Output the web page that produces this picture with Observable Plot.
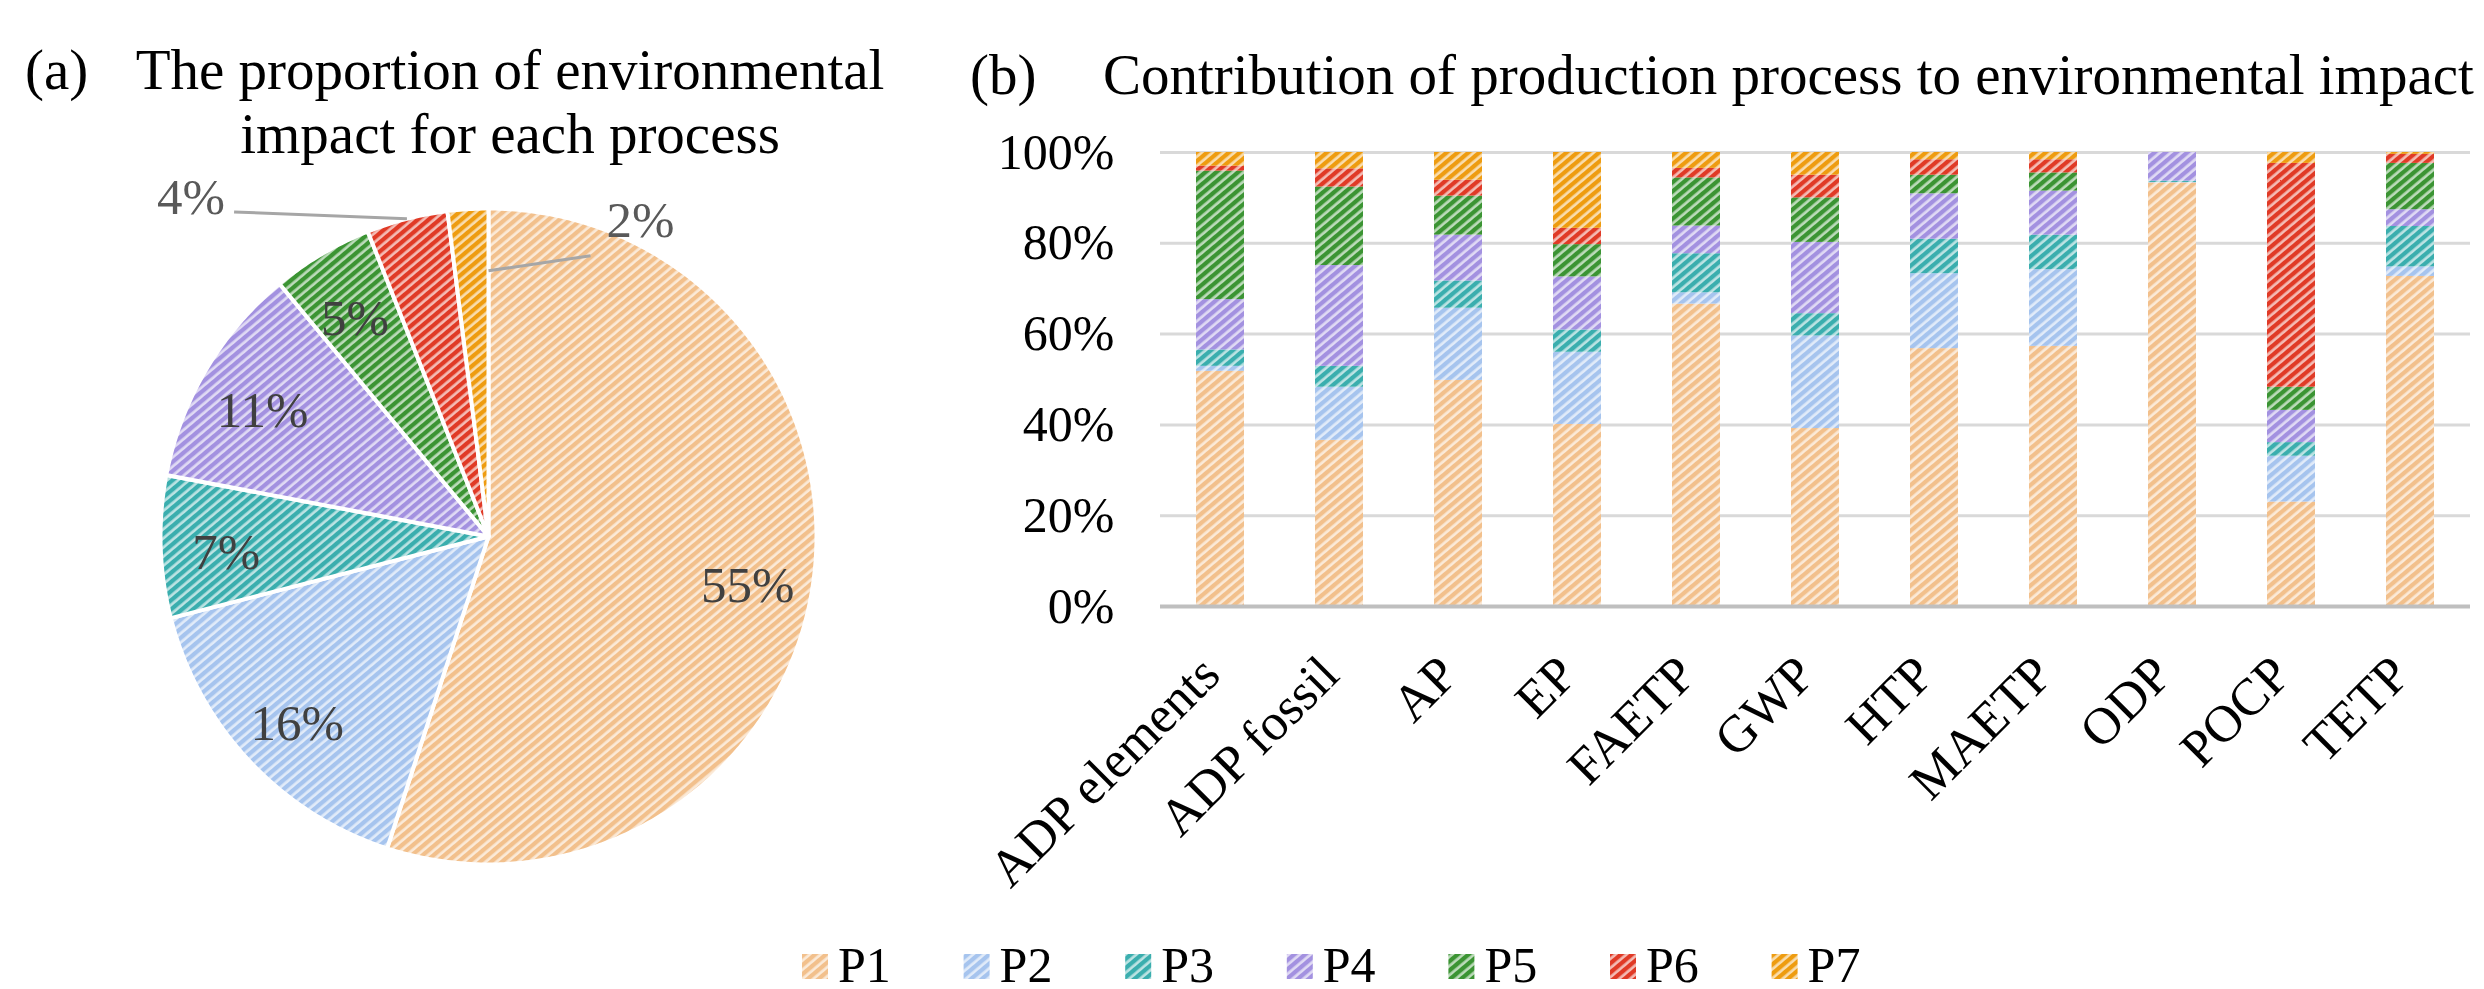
<!DOCTYPE html>
<html>
<head>
<meta charset="utf-8">
<script src="https://cdn.jsdelivr.net/npm/d3@7"></script>
<script src="https://cdn.jsdelivr.net/npm/@observablehq/plot@0.6"></script>
<style>
  html, body { margin: 0; padding: 0; background: #fff; }
  body { width: 2484px; height: 989px; position: relative; overflow: hidden;
         font-family: "Liberation Serif", "Times New Roman", serif; }
  #overlay, #pie, #bars { position: absolute; top: 0; }
  #overlay { left: 0; }
  #pie { left: 0; }
  #bars { left: 950px; }
  svg { overflow: visible; }
</style>
</head>
<body>
<svg id="overlay" width="2484" height="989"><defs id="patterns"></defs></svg>
<div id="pie"></div>
<div id="bars"></div>
<script>
// ---- data ----
const processes = ["P1", "P2", "P3", "P4", "P5", "P6", "P7"];
// share of total environmental impact per process (%)
const shares = [55, 16, 7, 11, 5, 4, 2];

const categories = ["ADP elements", "ADP fossil", "AP", "EP", "FAETP", "GWP", "HTP", "MAETP", "ODP", "POCP", "TETP"];
// contribution of each process to each impact category (%)
const P1 = [51.8, 36.6, 49.8, 40.1, 66.6, 39.2, 56.8, 57.3, 93.3, 23.0, 72.7];
const P2 = [1.1, 11.7, 15.9, 15.9, 2.5, 20.4, 16.5, 16.9, 0.1, 10.1, 2.1];
const P3 = [3.6, 4.6, 6.0, 4.9, 8.6, 4.9, 7.6, 7.6, 0.3, 3.0, 8.9];
const P4 = [11.1, 22.2, 10.1, 11.7, 6.1, 15.7, 10.0, 9.7, 6.3, 7.1, 3.7];
const P5 = [28.3, 17.3, 8.6, 7.1, 10.6, 9.8, 4.1, 4.0, 0, 5.1, 10.2];
const P6 = [1.1, 4.0, 3.5, 3.6, 2.1, 5.0, 3.4, 2.9, 0, 49.3, 2.0];
const P7 = [3.0, 3.6, 6.1, 16.7, 3.5, 5.0, 1.6, 1.6, 0, 2.4, 0.4];
const series = [P1, P2, P3, P4, P5, P6, P7];

const yTicks = [0, 20, 40, 60, 80, 100];

// ---- styles ----
const swatchColors = ["#F2C08C", "#A6C4EE", "#3AAEAE", "#A391E0", "#3B9433", "#E03A26", "#EE9C10"];
const FONT = "'Liberation Serif', 'Times New Roman', serif";

// hatched fills: diagonal stripes of the process colour over a pale tint
const defs = d3.select("#patterns");
processes.forEach((p, i) => {
  const c = swatchColors[i];
  const pat = defs.append("pattern")
    .attr("id", "pat-" + p)
    .attr("patternUnits", "userSpaceOnUse")
    .attr("width", 7).attr("height", 7)
    .attr("patternTransform", "rotate(50)");
  pat.append("rect").attr("width", 7).attr("height", 7).attr("fill", d3.interpolateRgb(c, "#ffffff")(0.66));
  pat.append("rect").attr("width", 4.3).attr("height", 7).attr("fill", c);
});
const fills = processes.map(p => `url(#pat-${p})`);

// ---- titles and legend ----
const ov = d3.select("#overlay");
const title = (x, y, s, anchor = "start") =>
  ov.append("text").attr("x", x).attr("y", y).attr("text-anchor", anchor)
    .attr("font-family", FONT).attr("font-size", 57).attr("fill", "#000").text(s);
title(25, 89, "(a)");
title(510, 89, "The proportion of environmental", "middle");
title(510, 153, "impact for each process", "middle");
title(970, 94, "(b)");
title(1103, 94, "Contribution of production process to environmental impact");

const legend = ov.append("g");
processes.forEach((p, i) => {
  const x0 = 802 + i * 161.6;
  legend.append("rect").attr("x", x0).attr("y", 954).attr("width", 26).attr("height", 25).attr("fill", fills[i]);
  legend.append("text").attr("x", x0 + 36).attr("y", 982)
    .attr("font-family", FONT).attr("font-size", 50).attr("fill", "#000").text(p);
});

// ---- (a) pie ----
const cx = 488, cy = 536, R = 328;
const arcs = d3.pie().sort(null).value(d => d)(shares);
const wedgePts = arcs.flatMap((a, i) => {
  const n = Math.max(4, Math.ceil((a.endAngle - a.startAngle) / 0.01));
  const pts = [{process: processes[i], x: 0, y: 0}];
  for (let k = 0; k <= n; k++) {
    const t = a.startAngle + (a.endAngle - a.startAngle) * k / n;
    pts.push({process: processes[i], x: Math.sin(t), y: Math.cos(t)});
  }
  return pts;
});
const mid = a => (a.startAngle + a.endAngle) / 2;

// small slices get their label pulled outside on a leader line
const callouts = {
  P6: {r: 1.0, angle: "mid", lead: [-0.527, 0.021], anchor: "end", dx: -9, dy: -14},
  P7: {r: 0.81, angle: "end", lead: [0.311, 0.046], anchor: "start", dx: 16, dy: -35}
};
const insideLabels = arcs
  .map((a, i) => ({label: shares[i] + "%", p: processes[i], x: 0.8 * Math.sin(mid(a)), y: 0.8 * Math.cos(mid(a))}))
  .filter(d => !callouts[d.p]);
const calloutMarks = arcs.flatMap((a, i) => {
  const c = callouts[processes[i]];
  if (!c) return [];
  const t = c.angle === "mid" ? mid(a) : a.endAngle;
  const s = {x: c.r * Math.sin(t), y: c.r * Math.cos(t)};
  const e = {x: s.x + c.lead[0], y: s.y + c.lead[1], label: shares[i] + "%"};
  return [
    Plot.link([{x1: s.x, y1: s.y, x2: e.x, y2: e.y}], {x1: "x1", y1: "y1", x2: "x2", y2: "y2", stroke: "#A6A6A6", strokeWidth: 3}),
    Plot.text([e], {x: "x", y: "y", text: "label", textAnchor: c.anchor, dx: c.dx, dy: c.dy,
      fontSize: 51, fontFamily: FONT, fill: "#595959"})
  ];
});

const pie = Plot.plot({
  width: 950, height: 900,
  x: {domain: [-1, 1], range: [cx - R, cx + R], axis: null},
  y: {domain: [-1, 1], range: [cy + R, cy - R], axis: null},
  color: {domain: processes, range: fills},
  style: {fontFamily: FONT, background: "none", overflow: "visible"},
  marks: [
    Plot.line(wedgePts, {x: "x", y: "y", z: "process", fill: "process", stroke: "#fff",
      strokeWidth: 4, strokeLinejoin: "round", curve: "linear-closed"}),
    Plot.text(insideLabels, {x: "x", y: "y", text: "label", fontSize: 51, fontFamily: FONT, fill: "#404040", dy: 8}),
    ...calloutMarks
  ]
});
document.getElementById("pie").appendChild(pie);

// ---- (b) stacked bars ----
const rows = categories.flatMap((c, i) => processes.map((p, j) => ({category: c, process: p, value: series[j][i]})));

const bars = Plot.plot({
  width: 1534, height: 900,
  marginLeft: 210, marginRight: 14, marginTop: 152, marginBottom: 294,
  x: {domain: categories, paddingInner: 0.6, paddingOuter: 0.3, axis: null},
  y: {domain: [0, 100], axis: null},
  color: {domain: processes, range: fills},
  style: {fontFamily: FONT, fontSize: "50px", background: "none", overflow: "visible", color: "#000"},
  marks: [
    Plot.gridY(yTicks.filter(t => t > 0), {stroke: "#D9D9D9", strokeOpacity: 1, strokeWidth: 3}),
    Plot.barY(rows, {x: "category", y: "value", fill: "process"}),
    Plot.ruleY([0], {stroke: "#BFBFBF", strokeWidth: 4}),
    Plot.axisY({ticks: yTicks, tickFormat: d => d + "%", tickSize: 0, tickPadding: 46, label: null,
      fontSize: 50, fontFamily: FONT, fill: "#000"}),
    Plot.text(categories, {x: d => d, frameAnchor: "bottom", dy: 71, dx: 2, rotate: -45,
      textAnchor: "end", lineAnchor: "bottom", fontSize: 52, fontFamily: FONT, fill: "#000"})
  ]
});
document.getElementById("bars").appendChild(bars);
</script>
</body>
</html>
